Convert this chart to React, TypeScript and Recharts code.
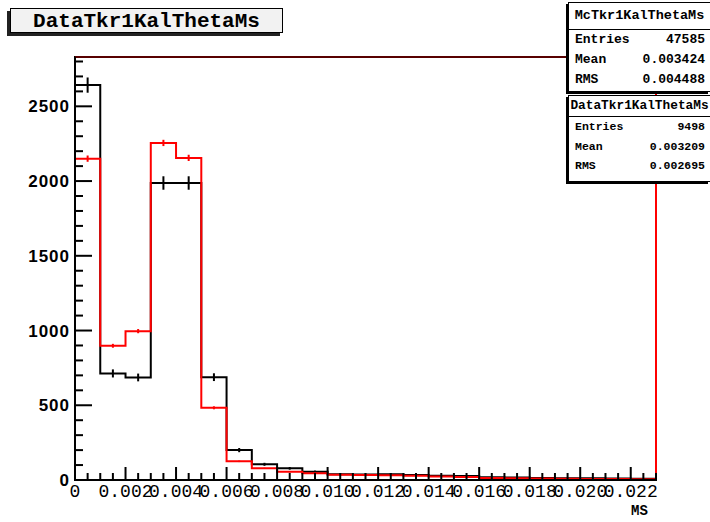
import React from 'react';
import {
  ComposedChart,
  Line,
  Scatter,
  XAxis,
  YAxis,
  ErrorBar,
  ReferenceArea,
  ReferenceLine
} from 'recharts';

// histogram contents, one entry per 0.001 wide bin starting at 0
const BIN_WIDTH = 0.001;
const dataCounts = [2642, 713, 686, 1987, 1987, 688, 200, 105, 78, 56, 38, 36, 38, 34, 28, 26, 18, 16, 14, 12, 12, 10, 9];
const dataErrors = [51, 27, 26, 45, 45, 26, 14, 10, 9, 7, 6, 6, 6, 6, 5, 5, 4, 4, 4, 3, 3, 3, 3];
const mcCounts = [2150, 898, 996, 2255, 2155, 483, 125, 78, 55, 45, 35, 34, 32, 28, 24, 20, 14, 12, 10, 8, 7, 6, 5];
const mcErrors = [21, 13, 14, 21, 21, 10, 5, 4, 3, 3, 3, 3, 3, 2, 2, 2, 2, 2, 1, 1, 1, 1, 1];

const xMax = 0.023;
const yMax = 2830;
const yLabels = [0, 500, 1000, 1500, 2000, 2500];
const xLabels = ['0', '0.002', '0.004', '0.006', '0.008', '0.010', '0.012', '0.014', '0.016', '0.018', '0.020', '0.022'];

const mcStats = { name: 'McTkr1KalThetaMs', entries: '47585', mean: '0.003424', rms: '0.004488' };
const dataStats = { name: 'DataTkr1KalThetaMs', entries: '9498', mean: '0.003209', rms: '0.002695' };

// step outline: start at 0, one point per bin edge, drop back to 0 at the end
const stepData = [{ x: 0, data: 0, mc: 0 }];
dataCounts.forEach((d, i) => {
  stepData.push({ x: i * BIN_WIDTH, data: d, mc: mcCounts[i] });
});
stepData.push({ x: dataCounts.length * BIN_WIDTH, data: 0, mc: 0 });

const dataPoints = dataCounts.map((d, i) => ({ x: (i + 0.5) * BIN_WIDTH, y: d, err: dataErrors[i] }));
const mcPoints = mcCounts.map((m, i) => ({ x: (i + 0.5) * BIN_WIDTH, y: m, err: mcErrors[i] }));

const xTicks: number[] = [];
for (let i = 0; i <= 46; i++) xTicks.push(i * 0.0005);
const yTicks: number[] = [];
for (let i = 0; i <= 28; i++) yTicks.push(i * 100);

const MONO = '"Liberation Mono", "DejaVu Sans Mono", monospace';

// ROOT style ticks: drawn inward from the axis line
const XTick = (props: any) => {
  const { x, y, payload } = props;
  const idx = Math.round(payload.value / 0.0005);
  const major = idx % 4 === 0;
  return (
    <g>
      <line x1={x} y1={y} x2={x} y2={y - (major ? 13 : 7)} stroke="#000" strokeWidth={2} />
      {major && (
        <text x={x} y={y + 17} textAnchor="middle" fontFamily={MONO} fontSize={18} fill="#000">
          {xLabels[idx / 4]}
        </text>
      )}
    </g>
  );
};

const YTick = (props: any) => {
  const { x, y, payload } = props;
  const major = payload.value % 500 === 0;
  return (
    <g>
      <line x1={x} y1={y} x2={x + (major ? 17 : 8)} y2={y} stroke="#000" strokeWidth={2} />
      {major && yLabels.includes(payload.value) && (
        <text x={x - 5} y={y + 6} textAnchor="end" fontFamily='"Liberation Sans", Arial, sans-serif'
          fontWeight="bold" fontSize={17} letterSpacing={1} fill="#000">
          {payload.value}
        </text>
      )}
    </g>
  );
};

const NoShape = () => <g />;

const StatsBox = ({ stats, top, height, head, titleSize, rowSize, rows }: any) => (
  <div style={{
    position: 'absolute', left: 568, top, width: 142, height, background: '#fff',
    border: '1px solid #000', borderRight: 'none', boxShadow: '-2px 2px 0 #000', fontFamily: MONO,
    fontWeight: 'bold', overflow: 'hidden', boxSizing: 'border-box'
  }}>
    <div style={{ height: head, borderBottom: '1px solid #000', fontSize: titleSize, lineHeight: head + 'px',
      whiteSpace: 'nowrap', textAlign: 'center' }}>
      {stats.name}
    </div>
    {[['Entries', stats.entries], ['Mean', stats.mean], ['RMS', stats.rms]].map(([k, v]) => (
      <div key={k} style={{ display: 'flex', justifyContent: 'space-between', height: rows,
        lineHeight: rows + 'px', fontSize: rowSize, paddingLeft: 6, paddingRight: 5 }}>
        <span>{k}</span>
        <span>{v}</span>
      </div>
    ))}
  </div>
);

const App: React.FC = () => {
  return (
    <div style={{ position: 'absolute', left: 0, top: 0, width: 710, height: 522, background: '#fff', overflow: 'hidden' }}>
      <ComposedChart
        width={710}
        height={522}
        data={stepData}
        margin={{ top: 57, right: 54, left: 0, bottom: 0 }}
      >
        <XAxis
          dataKey="x"
          type="number"
          domain={[0, xMax]}
          ticks={xTicks}
          interval={0}
          allowDataOverflow
          height={42}
          tickSize={0}
          tickMargin={0}
          tickLine={false}
          axisLine={{ stroke: '#000', strokeWidth: 2 }}
          tick={<XTick />}
        />
        <YAxis
          type="number"
          domain={[0, yMax]}
          ticks={yTicks}
          interval={0}
          allowDataOverflow
          width={75}
          tickSize={0}
          tickMargin={0}
          tickLine={false}
          axisLine={{ stroke: '#000', strokeWidth: 2 }}
          tick={<YTick />}
        />
        <ReferenceArea x1={0} x2={xMax} y1={0} y2={yMax} fill="none" stroke="#000" strokeWidth={2} />
        <Line
          type="stepAfter"
          dataKey="data"
          stroke="#000"
          strokeWidth={2}
          dot={false}
          isAnimationActive={false}
        />
        <Scatter data={dataPoints} dataKey="y" shape={<NoShape />} isAnimationActive={false}>
          <ErrorBar dataKey="err" direction="y" width={0} stroke="#000" strokeWidth={2} />
        </Scatter>
        <Line
          type="stepAfter"
          dataKey="mc"
          stroke="#ff0000"
          strokeWidth={2}
          dot={false}
          isAnimationActive={false}
        />
        <Scatter data={mcPoints} dataKey="y" shape={<NoShape />} isAnimationActive={false}>
          <ErrorBar dataKey="err" direction="y" width={0} stroke="#ff0000" strokeWidth={2} />
        </Scatter>
        <ReferenceLine x={xMax} stroke="#ff0000" strokeWidth={2} />
        <ReferenceLine x={0} stroke="#d00000" strokeWidth={1} />
        <ReferenceLine y={yMax} stroke="#b00000" strokeWidth={1} />
      </ComposedChart>

      <div style={{
        position: 'absolute', left: 10, top: 8, width: 273, height: 25, background: '#f2f2f2',
        border: '1px solid #000', boxShadow: '-3px 3px 0 #222', fontFamily: MONO, fontWeight: 'bold',
        fontSize: 21, lineHeight: '25px', textAlign: 'center', boxSizing: 'border-box'
      }}>
        DataTkr1KalThetaMs
      </div>

      <StatsBox stats={mcStats} top={2} height={90} head={26} titleSize={13.5} rowSize={13} rows={20} />
      <StatsBox stats={dataStats} top={95} height={87} head={20} titleSize={12.8} rowSize={11.5} rows={19.5} />

      <div style={{ position: 'absolute', left: 631, top: 503, fontFamily: MONO, fontWeight: 'bold', fontSize: 14 }}>
        MS
      </div>
    </div>
  );
};

export default App;
